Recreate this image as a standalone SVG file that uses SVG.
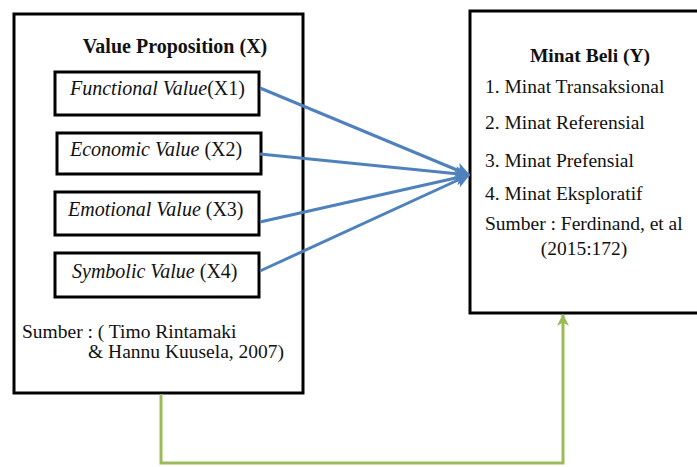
<svg xmlns="http://www.w3.org/2000/svg" width="697" height="467" viewBox="0 0 697 467">
<style>
.box{fill:#fff;stroke:#000;stroke-width:3}
.t{font-family:'Liberation Serif',serif;font-size:19.5px;fill:#111}
.l{font-size:20px}
.b{font-weight:bold}
.i{font-style:italic}
.blue{stroke:#4F81BD;stroke-width:3;fill:none}
.green{stroke:#9BBB59;stroke-width:3;fill:none}
</style>
<defs>
<marker id="ab" viewBox="0 0 10 10" refX="9" refY="5" markerWidth="5" markerHeight="5" orient="auto" markerUnits="strokeWidth">
<path d="M0,0 L10,5 L0,10 L2.5,5 Z" fill="#4F81BD"/>
</marker>
<marker id="ag" viewBox="0 0 10 10" refX="9" refY="5" markerWidth="4" markerHeight="5.5" orient="auto" markerUnits="strokeWidth">
<path d="M0,0 L10,5 L0,10 L2.5,5 Z" fill="#9BBB59"/>
</marker>
</defs>
<rect width="697" height="467" fill="#fff"/>
<g id="value-proposition">
<rect class="box" x="14" y="14" width="289" height="379"/>
<text class="t l b" x="175" y="53" text-anchor="middle">Value Proposition (X)</text>
<text class="t" x="22" y="338">Sumber : ( Timo Rintamaki</text>
<text class="t" x="88" y="358">&amp; Hannu Kuusela, 2007)</text>
</g>
<g id="x1">
<rect class="box" x="55" y="72" width="204" height="43"/>
<text class="t l" x="70" y="95"><tspan class="i">Functional Value</tspan>(X1)</text>
</g>
<g id="x2">
<rect class="box" x="57" y="133" width="204" height="41"/>
<text class="t l" x="70" y="156"><tspan class="i">Economic Value</tspan> (X2)</text>
</g>
<g id="x3">
<rect class="box" x="55" y="192" width="204" height="43"/>
<text class="t l" x="68" y="216"><tspan class="i">Emotional Value</tspan> (X3)</text>
</g>
<g id="x4">
<rect class="box" x="55" y="253" width="204" height="44"/>
<text class="t l" x="72" y="278"><tspan class="i">Symbolic Value</tspan> (X4)</text>
</g>
<g id="minat-beli">
<rect class="box" x="470" y="11" width="240" height="302"/>
<text class="t b" x="590" y="62" text-anchor="middle">Minat Beli (Y)</text>
<text class="t" x="485" y="93">1. Minat Transaksional</text>
<text class="t" x="485" y="129">2. Minat Referensial</text>
<text class="t" x="485" y="167">3. Minat Prefensial</text>
<text class="t" x="485" y="200">4. Minat Eksploratif</text>
<text class="t" x="485" y="230">Sumber : Ferdinand, et al</text>
<text class="t" x="584" y="255" text-anchor="middle">(2015:172)</text>
</g>
<g id="connectors">
<line class="blue" x1="260" y1="88" x2="469" y2="175" marker-end="url(#ab)"/>
<line class="blue" x1="260" y1="154" x2="469" y2="175" marker-end="url(#ab)"/>
<line class="blue" x1="260" y1="222" x2="469" y2="175" marker-end="url(#ab)"/>
<line class="blue" x1="260" y1="271" x2="469" y2="175" marker-end="url(#ab)"/>
<polyline class="green" points="161,394 161,463 563,463 563,315" marker-end="url(#ag)"/>
</g>
</svg>
